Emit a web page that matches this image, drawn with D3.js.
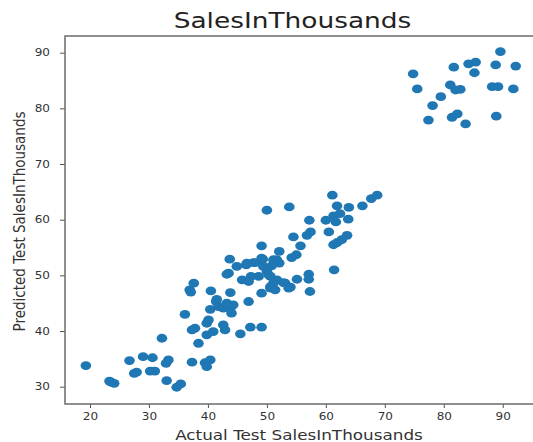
<!DOCTYPE html>
<html>
<head>
<meta charset="utf-8">
<script src="https://cdn.jsdelivr.net/npm/d3@7"></script>
<style>
  html, body { margin: 0; padding: 0; background: #fff; }
  svg { display: block; font-family: "DejaVu Sans", sans-serif; }
</style>
</head>
<body>
<svg id="chart" width="533" height="442"></svg>
<script>
// Actual vs. predicted test-set sales (thousands)
const actual = [
  89.6, 88.8, 92.2, 85.4, 84.2, 85.2, 81.7, 74.8, 75.5, 81.1, 82.0, 82.8, 88.2, 89.2, 91.8, 79.5, 78.1, 77.4, 81.4, 82.3, 83.7, 88.9,
  50.0, 53.8, 61.1, 61.9, 63.9, 66.2, 67.7, 68.7, 57.2, 60.0, 61.3, 62.4, 61.7, 63.8, 60.5, 63.6, 61.3, 61.9, 62.7, 57.4, 56.8, 54.5,
  55.7, 55.0, 54.2, 52.1, 49.1, 61.4, 57.1, 57.1, 55.1, 57.3, 53.1, 54.0, 52.1, 52.8, 53.7,
  43.5, 43.7, 43.8, 44.9, 45.8, 46.5, 47.3, 48.0, 49.3, 49.4, 50.0, 50.6, 51.1, 50.6, 51.4, 46.9, 49.1, 46.9, 51.7, 50.8, 47.7,
  49.1, 51.1, 48.6, 50.3, 51.7, 50.6, 46.6,
  36.1, 37.3, 37.8, 38.4, 36.9, 37.6, 37.1, 39.5, 40.4, 39.8, 37.3, 39.8, 39.8, 40.1, 40.4, 40.9, 40.5, 41.4, 41.8, 42.6, 42.6,
  42.9, 43.8, 44.0, 44.3, 43.2, 45.5, 47.2, 49.1, 41.5, 43.2,
  19.3, 23.6, 24.1, 23.3, 26.7, 27.5, 27.9, 29.0, 30.6, 30.2, 31.0, 32.2, 33.3, 32.9, 33.0, 34.7, 35.4
];
const predicted = [
  90.2, 87.8, 87.6, 88.3, 88.0, 86.4, 87.4, 86.2, 83.5, 84.2, 83.3, 83.4, 83.9, 83.9, 83.5, 82.1, 80.5, 77.9, 78.4, 79.0, 77.2, 78.6,
  61.7, 62.3, 64.4, 62.5, 62.2, 62.5, 63.8, 64.4, 59.9, 59.9, 60.7, 61.1, 59.6, 60.1, 57.8, 57.2, 55.5, 55.9, 56.4, 57.8, 57.2, 56.9,
  55.3, 53.7, 53.2, 54.3, 55.3, 51.0, 50.2, 49.3, 49.3, 47.1, 48.6, 47.9, 52.2, 48.7, 47.7,
  50.4, 52.9, 46.9, 51.6, 49.2, 51.9, 49.8, 52.3, 52.9, 51.6, 50.7, 49.8, 48.6, 47.7, 47.4, 48.9, 46.8, 45.3, 52.8, 51.7, 52.3,
  53.1, 52.8, 49.8, 50.1, 49.2, 48.0, 52.2,
  43.0, 40.2, 40.5, 37.8, 47.4, 48.6, 47.0, 34.3, 34.8, 33.6, 34.4, 39.3, 41.4, 42.0, 43.9, 39.9, 47.2, 45.3, 44.4, 44.1, 41.1,
  40.2, 44.1, 43.2, 44.7, 45.0, 39.5, 40.7, 40.7, 45.7, 50.2,
  33.8, 30.8, 30.6, 31.0, 34.7, 32.4, 32.6, 35.4, 35.2, 32.8, 32.8, 38.7, 34.8, 34.2, 31.1, 29.9, 30.5
];
const xTicks = [20, 30, 40, 50, 60, 70, 80, 90];
const yTicks = [30, 40, 50, 60, 70, 80, 90];
const titleText = "SalesInThousands";
const xLabelText = "Actual Test SalesInThousands";
const yLabelText = "Predicted Test SalesInThousands";

const points = actual.map((a, i) => ({ a, p: predicted[i] }));

const svg = d3.select("#chart");
const plot = { left: 65, right: 535, top: 36, bottom: 404 };
const stretchX = 1.2;

const x = d3.scaleLinear().domain([15.76, 95.47]).range([plot.left, plot.right]);
const y = d3.scaleLinear().domain([26.89, 93.0]).range([plot.bottom, plot.top]);

// widen glyphs horizontally by a fixed factor
function widen(sel, k) {
  sel.each(function () {
    const len = this.getComputedTextLength();
    d3.select(this).attr("textLength", len * k).attr("lengthAdjust", "spacingAndGlyphs");
  });
}

// markers
svg.append("g")
  .selectAll("ellipse")
  .data(points)
  .join("ellipse")
  .attr("cx", d => x(d.a))
  .attr("cy", d => y(d.p))
  .attr("rx", 5.3)
  .attr("ry", 4.4)
  .attr("fill", "#1f77b4");

// axes
const xAxis = svg.append("g")
  .attr("transform", `translate(0,${plot.bottom})`)
  .call(d3.axisBottom(x).tickValues(xTicks).tickSize(4).tickPadding(5).tickFormat(d3.format("d")));
const yAxis = svg.append("g")
  .attr("transform", `translate(${plot.left},0)`)
  .call(d3.axisLeft(y).tickValues(yTicks).tickSize(5).tickPadding(10).tickFormat(d3.format("d")));

[xAxis, yAxis].forEach(g => {
  g.select(".domain").remove();
  g.selectAll(".tick line").attr("stroke", "#555").attr("stroke-width", 1);
  g.selectAll(".tick text")
    .attr("fill", "#333")
    .style("font-family", "'DejaVu Sans', sans-serif")
    .style("font-size", "10px");
});
widen(xAxis.selectAll(".tick text"), stretchX);
widen(yAxis.selectAll(".tick text"), stretchX);

// spines (left, bottom, top)
const spine = svg.append("g").attr("stroke", "#6b6b6b").attr("stroke-width", 1.5).attr("fill", "none");
spine.append("path")
  .attr("d", `M${plot.right},${plot.top}H${plot.left}V${plot.bottom}H${plot.right}`);

// title
const title = svg.append("text")
  .attr("x", 292.5)
  .attr("y", 28)
  .attr("text-anchor", "middle")
  .attr("fill", "#222")
  .style("font-size", "22px")
  .text(titleText);
widen(title, stretchX);

// x label
const xLabel = svg.append("text")
  .attr("x", 299)
  .attr("y", 440)
  .attr("text-anchor", "middle")
  .attr("fill", "#333")
  .style("font-size", "14px")
  .text(xLabelText);
widen(xLabel, stretchX);

// y label
svg.append("text")
  .attr("transform", `translate(25,221.5) scale(${stretchX},1) rotate(-90)`)
  .attr("text-anchor", "middle")
  .attr("fill", "#333")
  .style("font-size", "13.5px")
  .text(yLabelText);
</script>
</body>
</html>
